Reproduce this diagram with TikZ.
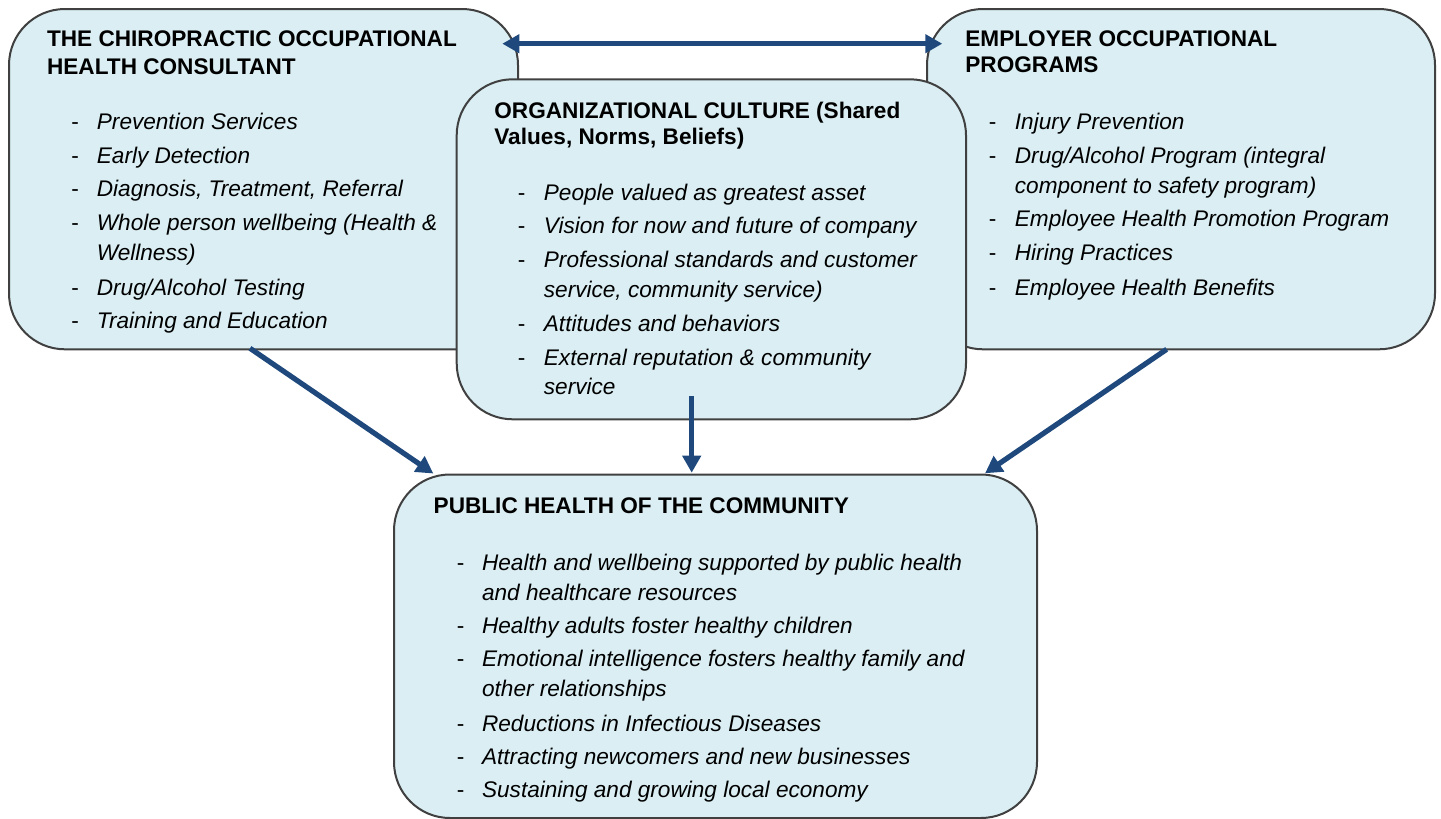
\documentclass[tikz,border=0pt]{standalone}
\usepackage{fontspec}
\setmainfont{Liberation Sans}
\usetikzlibrary{arrows.meta,calc}
\definecolor{boxfill}{HTML}{DAEEF3}
\definecolor{boxline}{HTML}{404040}
\definecolor{arr}{HTML}{1F497D}
\begin{document}
\begin{tikzpicture}[x=0.5pt,y=-0.5pt,
  box/.style={draw=boxline,line width=1pt,fill=boxfill,rounded corners=28pt,
              anchor=north west,inner sep=0pt,outer sep=0pt},
  hd/.style={anchor=base west,inner sep=0pt,font=\fontsize{11.3pt}{13pt}\selectfont\bfseries},
  dsh/.style={anchor=base west,inner sep=0pt,font=\fontsize{11.3pt}{13pt}\selectfont},
  itm/.style={anchor=base west,inner sep=0pt,font=\fontsize{11.3pt}{13pt}\selectfont\itshape},
  tipA/.tip={Triangle[width=9pt,length=8.5pt]},
  conn/.style={draw=arr,line width=2.6pt,-tipA},
  conntwo/.style={draw=arr,line width=2.6pt,tipA-tipA}]
\path[use as bounding box] (0,0) rectangle (1441,819);

% boxes
\node[box,minimum width=254.5pt,minimum height=170.15pt] (lbox) at (9,9) {};
\node[box,minimum width=254pt,minimum height=170.15pt] (rbox) at (927,9) {};
\node[box,minimum width=254.65pt,minimum height=170pt] (mbox) at (456.7,79.3) {};
\node[box,minimum width=321.5pt,minimum height=171.75pt] (bbox) at (394,474.5) {};

% left box text
\node[hd] (lh1) at (46.7,46.7) {THE CHIROPRACTIC OCCUPATIONAL};
\node[hd] (lh2) at (46.7,74) {HEALTH CONSULTANT};
\node[dsh] (ld1) at (71,129.3) {-};
\node[itm] (li1) at (96.5,129.3) {Prevention Services};
\node[dsh] (ld2) at (71,163.3) {-};
\node[itm] (li2) at (96.5,163.3) {Early Detection};
\node[dsh] (ld3) at (71,196.7) {-};
\node[itm] (li3) at (96.5,196.7) {Diagnosis, Treatment, Referral};
\node[dsh] (ld4) at (71,230) {-};
\node[itm] (li4) at (96.5,230) {Whole person wellbeing (Health \&};
\node[itm] (li4b) at (96.5,260.7) {Wellness)};
\node[dsh] (ld5) at (71,295) {-};
\node[itm] (li5) at (96.5,295) {Drug/Alcohol Testing};
\node[dsh] (ld6) at (71,328.3) {-};
\node[itm] (li6) at (96.5,328.3) {Training and Education};

% right box text
\node[hd] (rh1) at (965,46.7) {EMPLOYER OCCUPATIONAL};
\node[hd] (rh2) at (965,72.7) {PROGRAMS};
\node[dsh] (rd1) at (988.5,129.3) {-};
\node[itm] (ri1) at (1014.5,129.3) {Injury Prevention};
\node[dsh] (rd2) at (988.5,163.3) {-};
\node[itm] (ri2) at (1014.5,163.3) {Drug/Alcohol Program (integral};
\node[itm] (ri2b) at (1014.5,193.3) {component to safety program)};
\node[dsh] (rd3) at (988.5,226.7) {-};
\node[itm] (ri3) at (1014.5,226.7) {Employee Health Promotion Program};
\node[dsh] (rd4) at (988.5,260.7) {-};
\node[itm] (ri4) at (1014.5,260.7) {Hiring Practices};
\node[dsh] (rd5) at (988.5,295) {-};
\node[itm] (ri5) at (1014.5,295) {Employee Health Benefits};

% middle box text
\node[hd] (mh1) at (494,118.3) {ORGANIZATIONAL CULTURE (Shared};
\node[hd] (mh2) at (494,144.3) {Values, Norms, Beliefs)};
\node[dsh] (md1) at (517.5,200) {-};
\node[itm] (mi1) at (543.5,200) {People valued as greatest asset};
\node[dsh] (md2) at (517.5,233.3) {-};
\node[itm] (mi2) at (543.5,233.3) {Vision for now and future of company};
\node[dsh] (md3) at (517.5,267.7) {-};
\node[itm] (mi3) at (543.5,267.7) {Professional standards and customer};
\node[itm] (mi3b) at (543.5,297.7) {service, community service)};
\node[dsh] (md4) at (517.5,331) {-};
\node[itm] (mi4) at (543.5,331) {Attitudes and behaviors};
\node[dsh] (md5) at (517.5,365) {-};
\node[itm] (mi5) at (543.5,365) {External reputation \& community};
\node[itm] (mi5b) at (543.5,394) {service};

% bottom box text
\node[hd] (bh1) at (433.3,513.3) {PUBLIC HEALTH OF THE COMMUNITY};
\node[dsh] (bd1) at (456.5,570) {-};
\node[itm] (bi1) at (481.7,570) {Health and wellbeing supported by public health};
\node[itm] (bi1b) at (481.7,600) {and healthcare resources};
\node[dsh] (bd2) at (456.5,633.3) {-};
\node[itm] (bi2) at (481.7,633.3) {Healthy adults foster healthy children};
\node[dsh] (bd3) at (456.5,666.7) {-};
\node[itm] (bi3) at (481.7,666.7) {Emotional intelligence fosters healthy family and};
\node[itm] (bi3b) at (481.7,696.7) {other relationships};
\node[dsh] (bd4) at (456.5,731) {-};
\node[itm] (bi4) at (481.7,731) {Reductions in Infectious Diseases};
\node[dsh] (bd5) at (456.5,764.3) {-};
\node[itm] (bi5) at (481.7,764.3) {Attracting newcomers and new businesses};
\node[dsh] (bd6) at (456.5,797.7) {-};
\node[itm] (bi6) at (481.7,797.7) {Sustaining and growing local economy};

% connectors
\draw[conntwo] ($(lbox.north east)+(-15.7,34.7)$) -- ($(rbox.north west)+(15.3,34.7)$);
\draw[conn] ($(lbox.south west)+(241,-1)$) -- ($(bbox.north west)+(39.3,-1)$);
\draw[conn] ($(mbox.south west)+(235,-23.3)$) -- ($(bbox.north west)+(297.7,-1.8)$);
\draw[conn] ($(rbox.south west)+(239.7,0)$) -- ($(bbox.north west)+(591,-1.2)$);
\end{tikzpicture}
\end{document}
